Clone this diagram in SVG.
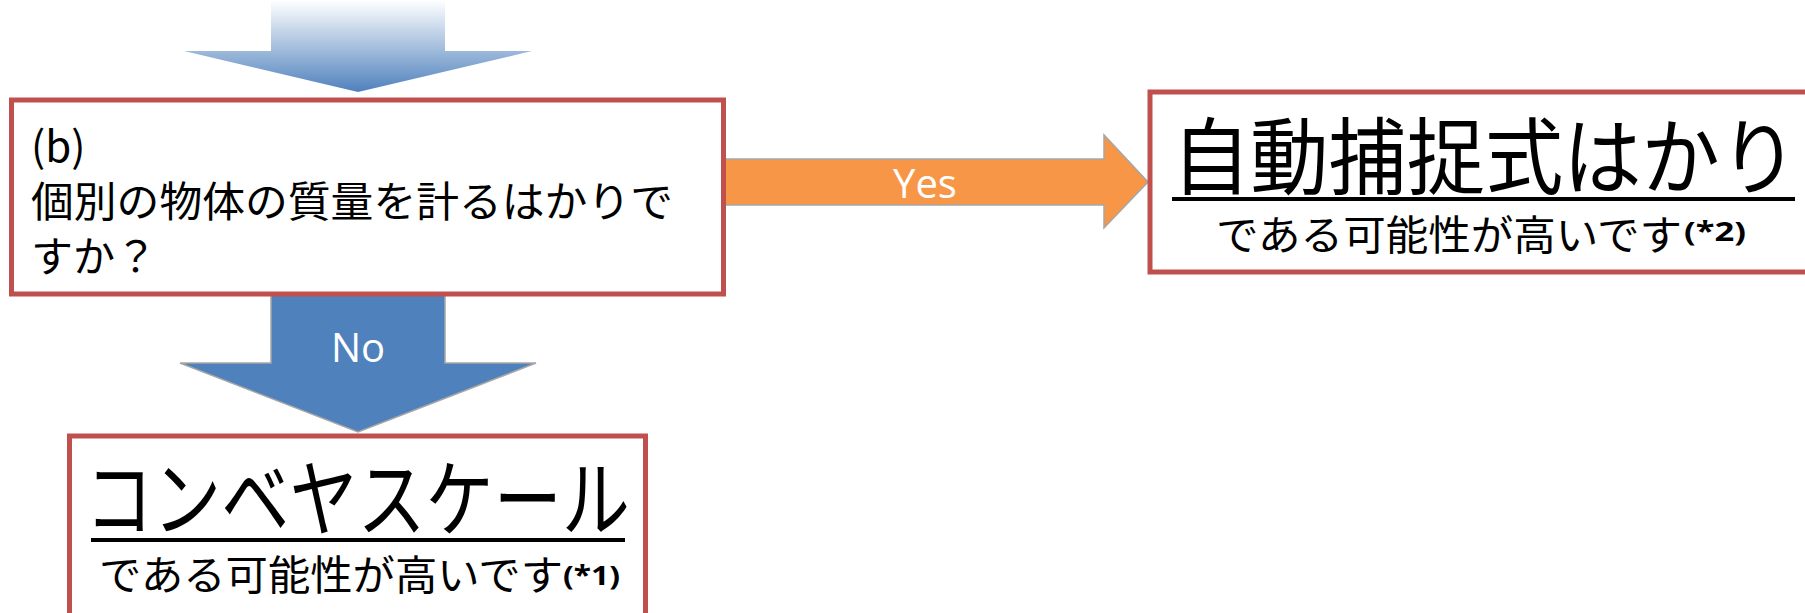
<svg xmlns="http://www.w3.org/2000/svg" width="1805" height="613" viewBox="0 0 1805 613">
<defs>
<linearGradient id="topGrad" x1="0" y1="0" x2="0" y2="92" gradientUnits="userSpaceOnUse">
<stop offset="0" stop-color="#ffffff"/>
<stop offset="0.1" stop-color="#eef3f9"/>
<stop offset="1" stop-color="#4f81bd"/>
</linearGradient>
<style>
.box{fill:#ffffff;stroke:#c0504d;stroke-width:5;}
.arrow{stroke:#a6a6a6;stroke-width:1.5;}
.jp{font-family:'Noto Sans CJK JP','Noto Sans',sans-serif;fill:#000000;}
.lbl{font-family:'Open Sans','Noto Sans',sans-serif;fill:#ffffff;font-size:40px;text-anchor:middle;}
.note{font-family:'Noto Sans','Noto Sans CJK JP',sans-serif;font-weight:bold;font-size:27px;fill:#000000;}
.ul{stroke:#000000;stroke-width:4;}
</style>
</defs>
<g id="connectors">
<polygon id="arrow-in" points="271,0 445,0 445,51 532,51 358,92 184,51 271,51" fill="url(#topGrad)"/>
<g id="arrow-yes">
<polygon class="arrow" points="723,159 1104,159 1104,135 1148,182 1104,228 1104,205 723,205" fill="#f79646"/>
<text class="lbl" x="925" y="198">Yes</text>
</g>
<g id="arrow-no">
<polygon class="arrow" points="271,294 445,294 445,363 536,363 358,432 180,363 271,363" fill="#4f81bd"/>
<text class="lbl" x="358" y="362">No</text>
</g>
</g>
<g id="node-question">
<rect class="box" x="11.5" y="100" width="712" height="194"/>
<text class="jp" font-size="42" x="31" y="162">(b)</text>
<text class="jp" font-size="42" x="31" y="217" textLength="642" lengthAdjust="spacingAndGlyphs">個別の物体の質量を計るはかりで</text>
<text class="jp" font-size="42" x="31" y="272">すか？</text>
</g>
<g id="node-auto">
<rect class="box" x="1150" y="92" width="700" height="180"/>
<text class="jp" font-size="84" x="1172" y="188" textLength="626" lengthAdjust="spacingAndGlyphs">自動捕捉式はかり</text>
<line class="ul" x1="1172" y1="199" x2="1795" y2="199"/>
<text class="jp" font-size="41" x="1216" y="250" textLength="466" lengthAdjust="spacingAndGlyphs">である可能性が高いです</text>
<text class="note" x="1684" y="241" textLength="62" lengthAdjust="spacingAndGlyphs">(*2)</text>
</g>
<g id="node-conveyor">
<rect class="box" x="69.5" y="436" width="576" height="250"/>
<text class="jp" font-size="84" x="85" y="530" textLength="545" lengthAdjust="spacingAndGlyphs">コンベヤスケール</text>
<line class="ul" x1="91" y1="540" x2="625" y2="540"/>
<text class="jp" font-size="41" x="99" y="590" textLength="464" lengthAdjust="spacingAndGlyphs">である可能性が高いです</text>
<text class="note" x="563" y="585" textLength="57" lengthAdjust="spacingAndGlyphs">(*1)</text>
</g>
</svg>
